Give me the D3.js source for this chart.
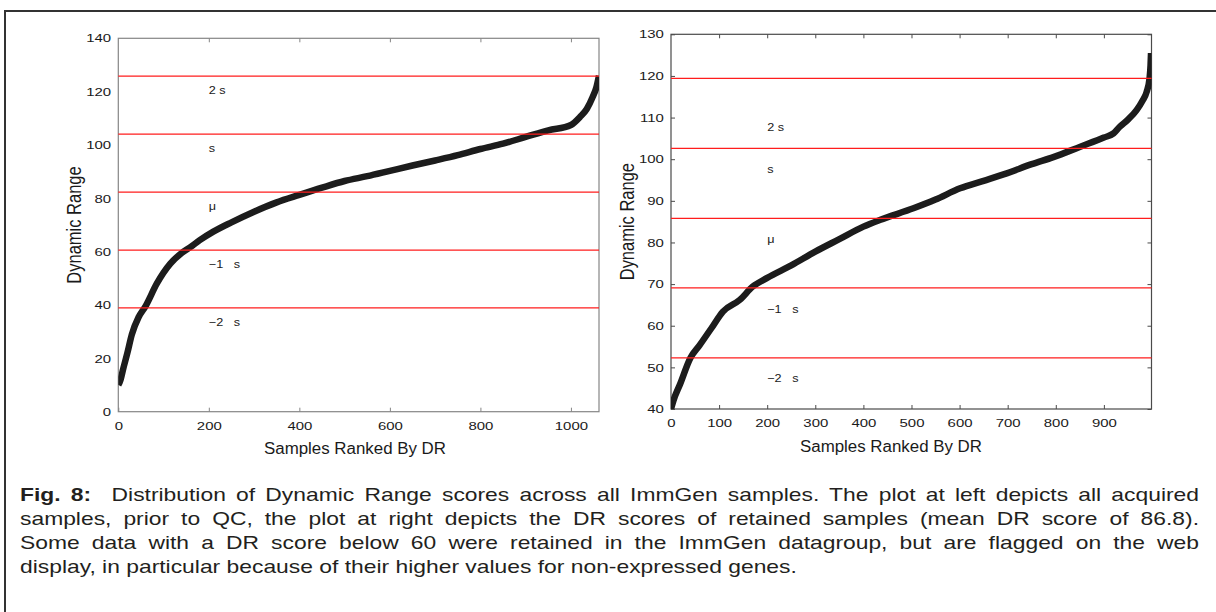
<!DOCTYPE html>
<html>
<head>
<meta charset="utf-8">
<script src="https://cdn.jsdelivr.net/npm/d3@7"></script>
<style>
  body { margin: 0; background: #fff; }
  svg { display: block; font-family: "Liberation Sans", Arial, sans-serif; }
  text { white-space: pre; }
</style>
</head>
<body>
<svg width="1216" height="612"></svg>
<script>
// left panel: all acquired samples
let leftRank = [0, 5, 10, 20, 30, 45, 60, 85, 115, 140, 160, 180, 210, 250, 300, 350, 400, 450, 500,
    550, 600, 650, 700, 750, 800, 850, 900, 950, 1000, 1020, 1035, 1048, 1056, 1062];
let leftScore = [10, 12, 15.5, 22, 29, 35.5, 39.5, 48, 55.5, 59.5, 61.8, 64.3, 67.5, 71, 75, 78.5, 81.3, 84, 86.5,
    88.3, 90.3, 92.3, 94.2, 96.2, 98.5, 100.5, 103, 105.5, 107.5, 110.5, 113.5, 118, 121.5, 126];
let leftBands = [38.9, 60.6, 82.3, 104.1, 125.8];
let leftXTicks = [0, 200, 400, 600, 800, 1000];
let leftYTicks = [0, 20, 40, 60, 80, 100, 120, 140];

// right panel: retained samples
let rightRank = [0, 5, 19, 40, 60, 84, 108, 143, 170, 200, 250, 300, 350, 400, 434, 504, 550, 601, 650,
    698, 750, 795, 851, 900, 920, 933, 950, 968, 980, 989, 995, 997, 998];
let rightScore = [40, 42, 46, 52.2, 55.4, 59.4, 63.4, 66.2, 69.4, 71.5, 74.5, 77.8, 80.8, 83.8, 85.4, 88.2, 90.3, 93, 94.8,
    96.6, 98.8, 100.5, 103, 105.2, 106.2, 107.8, 109.5, 111.8, 114, 116.2, 119.5, 122.5, 125.5];
let rightBands = [52.3, 69.1, 85.8, 102.6, 119.4];
let rightXTicks = [0, 100, 200, 300, 400, 500, 600, 700, 800, 900];
let rightYTicks = [40, 50, 60, 70, 80, 90, 100, 110, 120, 130];

let bandLabels = ['\u22122   s', '\u22121   s', '\u03bc', 's', '2 s'];

let captionLines = [
    '  Distribution of Dynamic Range scores across all ImmGen samples. The plot at left depicts all acquired',
    'samples, prior to QC, the plot at right depicts the DR scores of retained samples (mean DR score of 86.8).',
    'Some data with a DR score below 60 were retained in the ImmGen datagroup, but are flagged on the web',
    'display, in particular because of their higher values for non-expressed genes.'
];

let svg = d3.select('svg');
let stretch = 1.3;

// page frame (cut off at right and bottom)
svg.append('path')
    .attr('d', 'M5,612 V11 H1216')
    .attr('fill', 'none')
    .attr('stroke', '#333')
    .attr('stroke-width', 2);

/**
 * draws one ranked-score panel
 */
let drawPanel = (p) => {
    let x = d3.scaleLinear().domain([0, p.xMax]).range([p.x0, p.x1]);
    let y = d3.scaleLinear().domain(p.yDom).range([p.y1, p.y0]);
    let g = svg.append('g');

    let styleAxis = (sel) => {
        sel.select('.domain').remove();
        sel.selectAll('line').attr('stroke', p.frame);
        sel.selectAll('text').attr('fill', '#1a1a1a').attr('font-size', 11.5);
    };

    g.append('g')
        .attr('transform', `translate(0,${p.y1})`)
        .call(d3.axisBottom(x).tickValues(p.xTicks).tickFormat(d3.format('d'))
            .tickSizeInner(-4).tickSizeOuter(0).tickPadding(10))
        .call(styleAxis)
        .selectAll('text').attr('transform', `scale(${stretch},1)`);
    g.append('g')
        .attr('transform', `translate(0,${p.y0})`)
        .call(d3.axisTop(x).tickValues(p.xTicks.filter(d => d > 0)).tickSizeInner(-4).tickSizeOuter(0).tickFormat(''))
        .call(styleAxis);
    g.append('g')
        .attr('transform', `translate(${p.x0},0)`)
        .call(d3.axisLeft(y).tickValues(p.yTicks).tickFormat(d3.format('d'))
            .tickSizeInner(p.yTickLen).tickSizeOuter(0).tickPadding(5.5))
        .call(styleAxis)
        .selectAll('text').attr('transform', `scale(${stretch},1)`);
    if (p.yTickLen !== 0) {
        g.append('g')
            .attr('transform', `translate(${p.x1},0)`)
            .call(d3.axisRight(y).tickValues(p.yTicks).tickSizeInner(p.yTickLen).tickSizeOuter(0).tickFormat(''))
            .call(styleAxis);
    }

    g.append('rect')
        .attr('x', p.x0).attr('y', p.y0)
        .attr('width', p.x1 - p.x0).attr('height', p.y1 - p.y0)
        .attr('fill', 'none').attr('stroke', p.frame).attr('stroke-width', 1.2);

    let clipId = 'clip' + p.id;
    svg.append('clipPath').attr('id', clipId)
        .append('rect')
        .attr('x', p.x0).attr('y', p.y0)
        .attr('width', p.x1 - p.x0).attr('height', p.y1 - p.y0);

    let pts = p.rank.map((r, i) => [r, p.score[i]]);
    g.append('path')
        .datum(pts)
        .attr('clip-path', `url(#${clipId})`)
        .attr('fill', 'none')
        .attr('stroke', '#1c1c1c')
        .attr('stroke-width', 6.5)
        .attr('stroke-linejoin', 'round')
        .attr('d', d3.line().x(d => x(d[0])).y(d => y(d[1])).curve(d3.curveMonotoneX));

    g.selectAll('.band')
        .data(p.bands)
        .enter()
        .append('line')
        .attr('class', 'band')
        .attr('x1', p.x0).attr('x2', p.x1)
        .attr('y1', d => y(d)).attr('y2', d => y(d))
        .attr('stroke', '#ff1c1c')
        .attr('stroke-width', 1.3);

    // labels sit a few units under their line
    g.selectAll('.bandLabel')
        .data(p.bands)
        .enter()
        .append('text')
        .attr('class', 'bandLabel')
        .attr('transform', (d, i) => `translate(${x(200)},${y(d - p.labelDrop[i])}) scale(1.15,1)`)
        .attr('dy', '0.35em')
        .attr('font-size', 11)
        .attr('fill', '#1a1a1a')
        .text((d, i) => bandLabels[i]);

    g.append('text')
        .attr('x', p.xTitleX).attr('y', p.xTitleY)
        .attr('text-anchor', 'middle')
        .attr('font-size', 16)
        .attr('textLength', 182).attr('lengthAdjust', 'spacingAndGlyphs')
        .attr('fill', '#1a1a1a')
        .text('Samples Ranked By DR');

    g.append('text')
        .attr('transform', `translate(${p.x0 - 44.6},${(p.y0 + p.y1) / 2}) scale(1.25,1) rotate(-90)`)
        .attr('text-anchor', 'middle')
        .attr('dy', '0.35em')
        .attr('font-size', 16.5)
        .attr('fill', '#1a1a1a')
        .text('Dynamic Range');
};

drawPanel({
    id: 'L', x0: 118.3, x1: 599, y0: 38.3, y1: 411.7, xMax: 1062, yDom: [0, 140],
    rank: leftRank, score: leftScore, bands: leftBands, xTicks: leftXTicks, yTicks: leftYTicks,
    labelDrop: [5.2, 5.2, 5.2, 5.2, 5.2],
    yTickLen: 0, frame: '#858585', xTitleX: 355, xTitleY: 454
});
drawPanel({
    id: 'R', x0: 671, x1: 1151.5, y0: 34.3, y1: 409, xMax: 999, yDom: [40, 130],
    rank: rightRank, score: rightScore, bands: rightBands, xTicks: rightXTicks, yTicks: rightYTicks,
    labelDrop: [5, 5, 5, 5, 11.7],
    yTickLen: -4, frame: '#4a4a4a', xTitleX: 891, xTitleY: 452
});

// caption, justified except last line
let capScale = 1.27;
let capBase = [501, 525, 549, 573];
let cap = svg.append('g').attr('transform', `translate(20,0) scale(${capScale},1)`);
captionLines.forEach((ln, i) => {
    let t = cap.append('text')
        .attr('x', 0).attr('y', capBase[i])
        .attr('font-size', 18)
        .attr('fill', '#231f20');
    if (i === 0) {
        t.append('tspan').attr('font-weight', 'bold').text('Fig. 8:');
    }
    t.append('tspan').text(ln);
    if (i < 3) {
        let full = (i === 0 ? 'Fig. 8:' : '') + ln;
        let spaces = (full.match(/ /g) || []).length;
        let w = t.node().getComputedTextLength();
        t.attr('word-spacing', (1179 / capScale - w) / spaces);
    }
});
</script>
</body>
</html>
